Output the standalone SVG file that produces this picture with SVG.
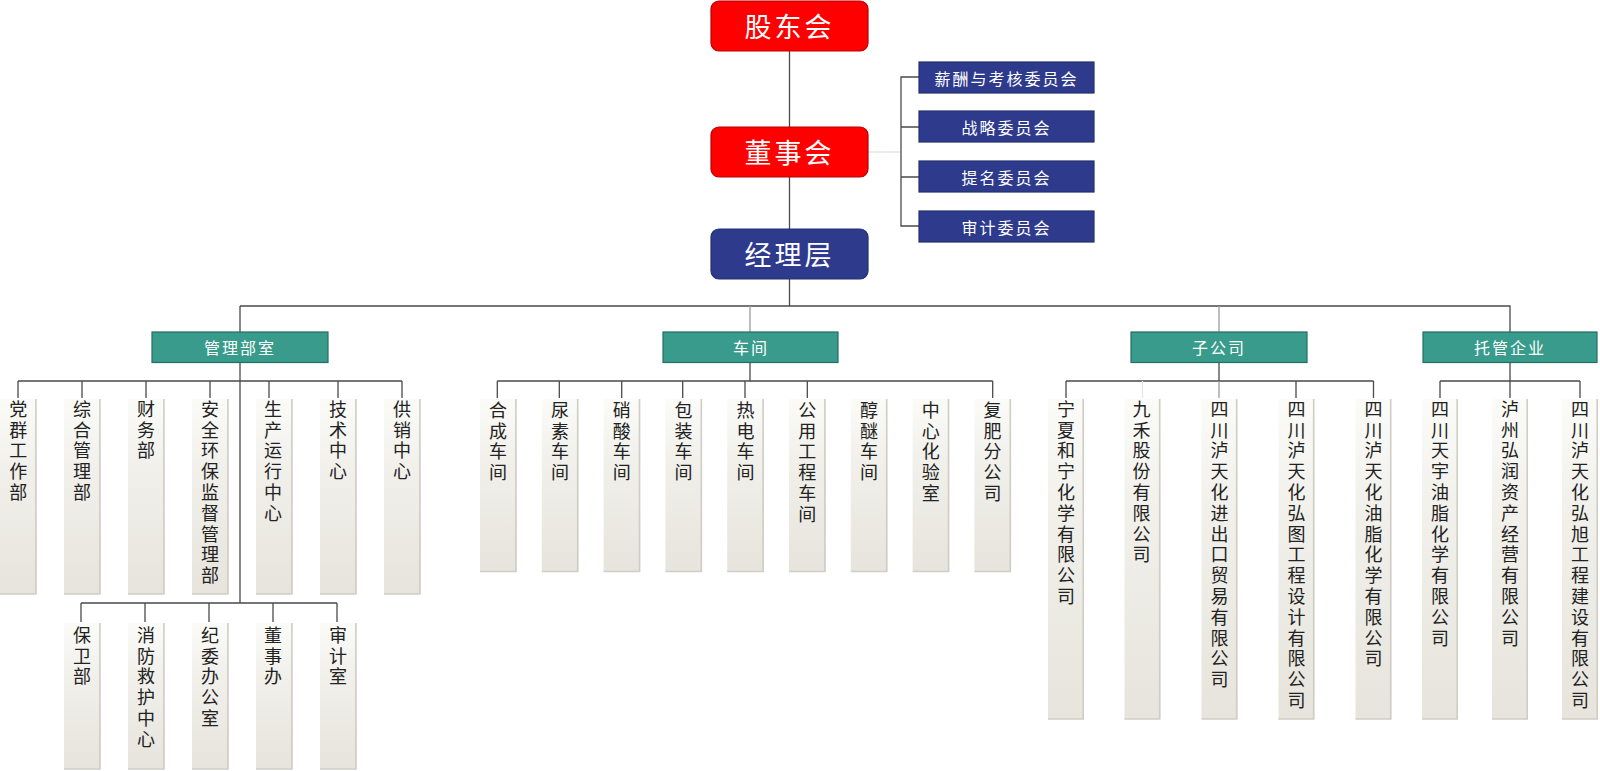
<svg xmlns="http://www.w3.org/2000/svg" width="1600" height="771" viewBox="0 0 1600 771">
<style>
.red{fill:#fe0000;stroke:#b80000;stroke-width:1.2}
.navy{fill:#2e3a8c;stroke:#24306f;stroke-width:1.2}
.teal{fill:#389b8b;stroke:#236e62;stroke-width:1.2}
.col{fill:url(#colg)}
.edge{stroke:#cfcdc5;stroke-width:1.6;fill:none}
.ln{stroke:#4a4a4a;stroke-width:1.3;fill:none}
.lnl{stroke:#9c9c9c;stroke-width:1.3;fill:none}
.lnf{stroke:#e6e6e6;stroke-width:1.3;fill:none}
.big{font-family:"Noto Sans CJK SC","Noto Sans CJK JP",sans-serif;font-size:27px;fill:#fff;text-anchor:middle;dominant-baseline:central;letter-spacing:3px}
.mid{font-family:"Noto Sans CJK SC","Noto Sans CJK JP",sans-serif;font-size:16px;fill:#fff;text-anchor:middle;dominant-baseline:central;letter-spacing:2px}
.vt{font-family:"Noto Sans CJK SC","Noto Sans CJK JP",sans-serif;font-size:18px;fill:#222;text-anchor:start;writing-mode:vertical-rl;text-orientation:upright;letter-spacing:2.8px}
</style>
<defs>
<linearGradient id="colg" x1="0" y1="0" x2="0" y2="1">
<stop offset="0" stop-color="#fbfbf8"/>
<stop offset="0.35" stop-color="#f1f0eb"/>
<stop offset="1" stop-color="#e6e4dc"/>
</linearGradient>
</defs>

<g id="connectors">
<path class="ln" d="M789.5 51V127M789.5 177V229M789.5 279V306"/>
<path class="lnf" d="M868 152H901"/>
<path class="ln" d="M919 77H901V226H919M901 127H919M901 177H919"/>
<path class="ln" d="M240 306H1510V332"/>
<path class="ln" d="M240 306V332"/>
<path class="lnl" d="M750 306V332M1219 306V332"/>
<path class="ln" d="M240 362V603"/>
<path class="ln" d="M18 381H402M18 381V398M82 381V398M146 381V398M210 381V398M269 381V398M338 381V398M402 381V398"/>
<path class="ln" d="M81 603H337M81 603V622M145 603V622M209 603V622M273 603V622M337 603V622"/>
<path class="ln" d="M750 362V381M497.3 381H992.7M497.3 381V398M559.3 381V398M621.7 381V398M682.7 381V398M745 381V398M807.3 381V398M992.7 381V398"/>
<path class="ln" d="M1219 362V381M1066 381H1373.5M1066 381V398M1296 381V398M1373.5 381V398"/>
<path class="lnl" d="M1219 381V398"/>
<path class="lnf" d="M1142.5 381V398"/>
<path class="ln" d="M1510 362V398M1440 381H1580M1440 381V398M1580 381V398"/>
</g>

<g id="n-gudonghui"><rect class="red" x="711" y="1" width="157" height="50" rx="8"/><text class="big" x="789.5" y="25">股东会</text></g>
<g id="n-dongshihui"><rect class="red" x="711" y="127" width="157" height="50" rx="8"/><text class="big" x="789.5" y="151">董事会</text></g>
<g id="n-jinglice"><rect class="navy" x="711" y="229" width="157" height="50" rx="8"/><text class="big" x="789.5" y="253">经理层</text></g>

<g id="n-xinchou"><rect class="navy" x="919" y="62" width="175" height="31"/><text class="mid" x="1006.5" y="77.5">薪酬与考核委员会</text></g>
<g id="n-zhanlue"><rect class="navy" x="919" y="111" width="175" height="31"/><text class="mid" x="1006.5" y="126.5">战略委员会</text></g>
<g id="n-timing"><rect class="navy" x="919" y="161" width="175" height="31"/><text class="mid" x="1006.5" y="176.5">提名委员会</text></g>
<g id="n-shenji-wyh"><rect class="navy" x="919" y="211" width="175" height="31"/><text class="mid" x="1006.5" y="226.5">审计委员会</text></g>

<g id="n-guanli"><rect class="teal" x="152" y="332" width="176" height="30.5"/><text class="mid" x="240" y="347">管理部室</text></g>
<g id="n-chejian"><rect class="teal" x="663" y="332" width="175" height="30.5"/><text class="mid" x="751" y="347">车间</text></g>
<g id="n-zigongsi"><rect class="teal" x="1131" y="332" width="176" height="30.5"/><text class="mid" x="1219" y="347">子公司</text></g>
<g id="n-tuoguan"><rect class="teal" x="1423" y="332" width="174" height="30.5"/><text class="mid" x="1510" y="347">托管企业</text></g>

<!-- management row 1 -->
<g id="n-dangqun"><rect class="col" x="0" y="399" width="36.7" height="195"/><path class="edge" d="M35.9 399V594M0 594H36.7"/><text class="vt" x="18.3" y="400">党群工作部</text></g>
<g id="n-zonghe"><rect class="col" x="64" y="399" width="36.7" height="195"/><path class="edge" d="M99.9 399V594M64 594H100.7"/><text class="vt" x="82" y="400">综合管理部</text></g>
<g id="n-caiwu"><rect class="col" x="128" y="399" width="36.7" height="195"/><path class="edge" d="M163.9 399V594M128 594H164.7"/><text class="vt" x="146" y="400">财务部</text></g>
<g id="n-anquan"><rect class="col" x="192" y="399" width="36.7" height="195"/><path class="edge" d="M227.9 399V594M192 594H228.7"/><text class="vt" x="210" y="400">安全环保监督管理部</text></g>
<g id="n-shengchan"><rect class="col" x="256" y="399" width="36.7" height="195"/><path class="edge" d="M291.9 399V594M256 594H292.7"/><text class="vt" x="273" y="400">生产运行中心</text></g>
<g id="n-jishu"><rect class="col" x="320" y="399" width="36.7" height="195"/><path class="edge" d="M355.9 399V594M320 594H356.7"/><text class="vt" x="338" y="400">技术中心</text></g>
<g id="n-gongxiao"><rect class="col" x="384" y="399" width="36.7" height="195"/><path class="edge" d="M419.9 399V594M384 594H420.7"/><text class="vt" x="402" y="400">供销中心</text></g>

<!-- management row 2 -->
<g id="n-baowei"><rect class="col" x="64" y="623" width="36.7" height="146"/><path class="edge" d="M99.9 623V769M64 769H100.7"/><text class="vt" x="82" y="626">保卫部</text></g>
<g id="n-xiaofang"><rect class="col" x="128" y="623" width="36.7" height="146"/><path class="edge" d="M163.9 623V769M128 769H164.7"/><text class="vt" x="146" y="626">消防救护中心</text></g>
<g id="n-jiwei"><rect class="col" x="192" y="623" width="36.7" height="146"/><path class="edge" d="M227.9 623V769M192 769H228.7"/><text class="vt" x="210" y="626">纪委办公室</text></g>
<g id="n-dongshiban"><rect class="col" x="256" y="623" width="36.7" height="146"/><path class="edge" d="M291.9 623V769M256 769H292.7"/><text class="vt" x="273" y="626">董事办</text></g>
<g id="n-shenjishi"><rect class="col" x="320" y="623" width="36.7" height="146"/><path class="edge" d="M355.9 623V769M320 769H356.7"/><text class="vt" x="338" y="626">审计室</text></g>

<!-- workshops -->
<g id="n-hecheng"><rect class="col" x="480" y="399" width="36.7" height="172.5"/><path class="edge" d="M515.9 399V571.5M480 571.5H516.7"/><text class="vt" x="498" y="401">合成车间</text></g>
<g id="n-niaosu"><rect class="col" x="541.8" y="399" width="36.7" height="172.5"/><path class="edge" d="M577.7 399V571.5M541.8 571.5H578.5"/><text class="vt" x="560" y="401">尿素车间</text></g>
<g id="n-xiaosuan"><rect class="col" x="603.6" y="399" width="36.7" height="172.5"/><path class="edge" d="M639.5 399V571.5M603.6 571.5H640.3"/><text class="vt" x="621.8" y="401">硝酸车间</text></g>
<g id="n-baozhuang"><rect class="col" x="665.4" y="399" width="36.7" height="172.5"/><path class="edge" d="M701.3 399V571.5M665.4 571.5H702.1"/><text class="vt" x="683.6" y="401">包装车间</text></g>
<g id="n-redian"><rect class="col" x="727.2" y="399" width="36.7" height="172.5"/><path class="edge" d="M763.1 399V571.5M727.2 571.5H763.9"/><text class="vt" x="745.4" y="401">热电车间</text></g>
<g id="n-gongyong"><rect class="col" x="789" y="399" width="36.7" height="172.5"/><path class="edge" d="M824.9 399V571.5M789 571.5H825.7"/><text class="vt" x="807.2" y="401">公用工程车间</text></g>
<g id="n-chunmi"><rect class="col" x="850.8" y="399" width="36.7" height="172.5"/><path class="edge" d="M886.7 399V571.5M850.8 571.5H887.5"/><text class="vt" x="869" y="401">醇醚车间</text></g>
<g id="n-huayan"><rect class="col" x="912.6" y="399" width="36.7" height="172.5"/><path class="edge" d="M948.5 399V571.5M912.6 571.5H949.3"/><text class="vt" x="930.8" y="401">中心化验室</text></g>
<g id="n-fufei"><rect class="col" x="974.4" y="399" width="36.7" height="172.5"/><path class="edge" d="M1010.3 399V571.5M974.4 571.5H1011.1"/><text class="vt" x="992.6" y="401">复肥分公司</text></g>

<!-- subsidiaries -->
<g id="n-ningxia"><rect class="col" x="1048" y="399" width="36" height="320"/><path class="edge" d="M1083.2 399V719M1048 719H1084"/><text class="vt" x="1066" y="400">宁夏和宁化学有限公司</text></g>
<g id="n-jiuhe"><rect class="col" x="1124.5" y="399" width="36" height="320"/><path class="edge" d="M1159.7 399V719M1124.5 719H1160.5"/><text class="vt" x="1141.5" y="400">九禾股份有限公司</text></g>
<g id="n-jinchukou"><rect class="col" x="1201.5" y="399" width="36" height="320"/><path class="edge" d="M1236.7 399V719M1201.5 719H1237.5"/><text class="vt" x="1219.5" y="400">四川泸天化进出口贸易有限公司</text></g>
<g id="n-hongtu"><rect class="col" x="1278.5" y="399" width="36" height="320"/><path class="edge" d="M1313.7 399V719M1278.5 719H1314.5"/><text class="vt" x="1296.5" y="400">四川泸天化弘图工程设计有限公司</text></g>
<g id="n-youzhi"><rect class="col" x="1355.5" y="399" width="36" height="320"/><path class="edge" d="M1390.7 399V719M1355.5 719H1391.5"/><text class="vt" x="1373.5" y="400">四川泸天化油脂化学有限公司</text></g>

<!-- trust-managed -->
<g id="n-tianyu"><rect class="col" x="1422" y="399" width="36" height="320"/><path class="edge" d="M1457.2 399V719M1422 719H1458"/><text class="vt" x="1440" y="400">四川天宇油脂化学有限公司</text></g>
<g id="n-hongrun"><rect class="col" x="1492" y="399" width="36" height="320"/><path class="edge" d="M1527.2 399V719M1492 719H1528"/><text class="vt" x="1510" y="400">泸州弘润资产经营有限公司</text></g>
<g id="n-hongxu"><rect class="col" x="1562" y="399" width="36" height="320"/><path class="edge" d="M1597.2 399V719M1562 719H1598"/><text class="vt" x="1580" y="400">四川泸天化弘旭工程建设有限公司</text></g>
</svg>
